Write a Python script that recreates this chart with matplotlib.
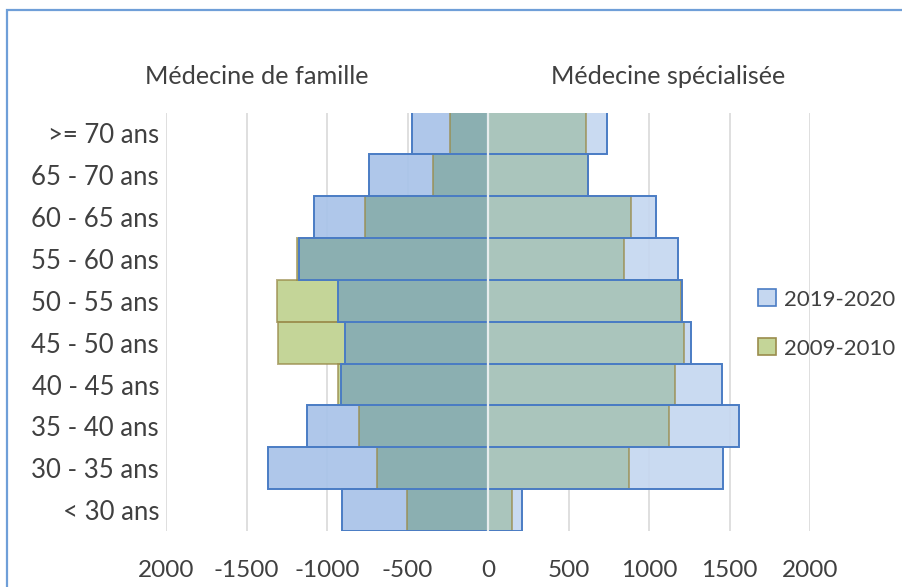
import numpy as np
import matplotlib
matplotlib.use("Agg")
import matplotlib.pyplot as plt
from matplotlib.patches import Patch, Rectangle

plt.rcParams['font.family'] = ['Lato', 'DejaVu Sans']

# age groups, top to bottom
ages = [">= 70 ans", "65 - 70 ans", "60 - 65 ans", "55 - 60 ans", "50 - 55 ans",
        "45 - 50 ans", "40 - 45 ans", "35 - 40 ans", "30 - 35 ans", "< 30 ans"]

# médecine de famille (shown on the left)
fam_2019 = [474, 737, 1079, 1174, 930, 888, 915, 1122, 1368, 905]
fam_2009 = [236, 340, 764, 1184, 1309, 1302, 930, 799, 687, 505]

# médecine spécialisée (shown on the right)
spe_2019 = [737, 623, 1043, 1182, 1205, 1261, 1451, 1559, 1458, 213]
spe_2009 = [609, 620, 886, 845, 1200, 1217, 1161, 1126, 874, 151]

xticks = [-2000, -1500, -1000, -500, 0, 500, 1000, 1500, 2000]
xticklabels = ["2000", "-1500", "-1000", "-500", "0", "500", "1000", "1500", "2000"]

blue_edge = "#4a7cc4"
olive_edge = "#9a8c4c"
green = "#c4d598"
txt = "#404040"

fig = plt.figure(figsize=(9.02, 5.87), dpi=100)
ax = fig.add_axes([166 / 902, (587 - 531) / 587, (810 - 166) / 902, (531 - 112.5) / 587])

y = np.arange(len(ages))


def draw_side(a, b, sign, ov_col, blue_col):
    a = np.array(a)
    b = np.array(b)
    ov = np.minimum(a, b)
    ax.barh(y, sign * ov, height=1.0, color=ov_col, zorder=2)
    ax.barh(y, sign * np.clip(a - ov, 0, None), left=sign * ov, height=1.0,
            color=blue_col, alpha=0.92, zorder=2)
    ax.barh(y, sign * np.clip(b - ov, 0, None), left=sign * ov, height=1.0,
            color=green, zorder=2)
    ax.barh(y, sign * b, height=1.0, fill=False, edgecolor=olive_edge,
            linewidth=1.4, alpha=0.7, zorder=3)
    ax.barh(y, sign * a, height=1.0, fill=False, edgecolor=blue_edge,
            linewidth=1.4, zorder=4)


draw_side(fam_2019, fam_2009, -1, "#8bafb1", "#a8c3e9")
draw_side(spe_2019, spe_2009, 1, "#aac5bc", "#c5d7f0")

ax.axvline(0, color="#e6eced", lw=1.6, zorder=5)

ax.set_xlim(-2000, 2000)
ax.set_ylim(len(ages) - 0.5, -0.5)
ax.set_xticks(xticks)
ax.set_xticklabels(xticklabels, fontsize=17.5)
ax.set_yticks(y)
ax.set_yticklabels(ages, fontsize=18.5)
ax.tick_params(axis="both", length=0, colors=txt)
ax.tick_params(axis="x", pad=21)
ax.tick_params(axis="y", pad=5)
ax.grid(axis="x", color="#d9d9d9", lw=1.2, zorder=0)
ax.set_axisbelow(True)
for s in ax.spines.values():
    s.set_visible(False)

fig.text(257 / 902, 1 - 77 / 587, "Médecine de famille", ha="center", va="center",
         fontsize=18.2, color=txt)
fig.text(668 / 902, 1 - 77 / 587, "Médecine spécialisée", ha="center", va="center",
         fontsize=18.2, color=txt)

handles = [Patch(facecolor="#c5d7f0", edgecolor=blue_edge, lw=1.2, label="2019-2020"),
           Patch(facecolor=green, edgecolor=olive_edge, lw=1.2, label="2009-2010")]
fig.legend(handles=handles, loc="center left", bbox_to_anchor=(738 / 902, 1 - 324 / 587),
           frameon=False, fontsize=16, handlelength=0.8, handleheight=0.8,
           handletextpad=0.35, labelspacing=1.3, labelcolor=txt)

# chart frame, cropped on right and bottom
fig.patches.append(Rectangle((7 / 902, -0.1), 1.2, 1.1 - 10 / 587, transform=fig.transFigure,
                             fill=False, edgecolor="#6f9fd8", lw=1.6))

fig.savefig("out.png", dpi=100)
